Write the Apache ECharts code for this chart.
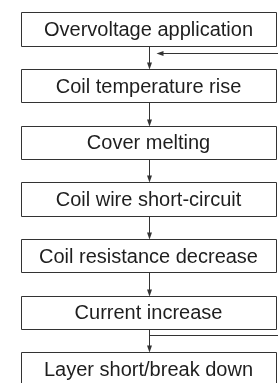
<!DOCTYPE html>
<html>
<head>
<meta charset="utf-8">
<script src="https://cdn.jsdelivr.net/npm/echarts@6/dist/echarts.min.js"></script>
</head>
<body style="margin:0;background-color:#fff">
<div id="main" style="width:278px;height:383px;"></div>
<script type="text/javascript">

var steps = [
	'Overvoltage application',
	'Coil temperature rise',
	'Cover melting',
	'Coil wire short-circuit',
	'Coil resistance decrease',
	'Current increase',
	'Layer short/break down'
];
// loop goes out under "Current increase" and back in under "Overvoltage application"
var loopFrom = 5;
var loopTo = 0;

var boxH = 33.5;
var lineColor = '#333';

function snap(v){ return Math.round(v) + 0.5; }

function arrowDown(x, tipY){
	return {
		type: 'polygon',
		shape: {points: [[x - 2.5, tipY - 7], [x + 2.5, tipY - 7], [x, tipY]]},
		style: {fill: lineColor}
	};
}

function renderBox(params, api){
	var i = api.value(1);
	var a = api.coord([0, i]);
	var b = api.coord([1, i]);
	var x0 = snap(a[0]), x1 = snap(b[0]);
	var top = snap(a[1] - boxH / 2), bot = snap(a[1] + boxH / 2);
	var xc = snap((a[0] + b[0]) / 2);
	var children = [
		{type: 'rect', shape: {x: x0, y: top, width: x1 - x0, height: bot - top},
		 style: {fill: '#fff', stroke: lineColor, lineWidth: 1}},
		{type: 'text', x: (a[0] + b[0]) / 2, y: a[1] + 1.5,
		 style: {text: steps[i], fill: '#1e1e1e', font: '20px "Liberation Sans", Arial, sans-serif',
		         align: 'center', verticalAlign: 'middle'}}
	];
	if (i < steps.length - 1) {
		var n = api.coord([0, i + 1]);
		var nextTop = snap(n[1] - boxH / 2);
		children.push({type: 'line', shape: {x1: xc, y1: bot, x2: xc, y2: nextTop - 5},
			style: {stroke: lineColor, lineWidth: 1}});
		children.push(arrowDown(xc, nextTop));
	}
	return {type: 'group', children: children};
}

function renderLoop(params, api){
	var f = api.value(0), t = api.value(1);
	var a = api.coord([0, f]), b = api.coord([1, f]);
	var xc = snap((a[0] + b[0]) / 2);
	var xr = b[0] + 30; // right leg is off the page
	// sits a bit above the middle of the gap
	var yF = snap(api.coord([0, f + 0.4])[1]);
	var yT = snap(api.coord([0, t + 0.43])[1]);
	return {type: 'group', children: [
		{type: 'polyline', shape: {points: [[xc, yF], [xr, yF], [xr, yT], [xc + 12, yT]]},
		 style: {stroke: lineColor, lineWidth: 1, fill: null}},
		{type: 'polygon', shape: {points: [[xc + 7, yT], [xc + 14, yT - 2.5], [xc + 14, yT + 2.5]]},
		 style: {fill: lineColor}}
	]};
}

var myChart = echarts.init(document.getElementById('main'));
var option = {
	animation: false,
	grid: {left: 21, right: 2, top: 29, bottom: 14},
	xAxis: {type: 'value', min: 0, max: 1, show: false},
	yAxis: {type: 'value', min: 0, max: steps.length - 1, inverse: true, show: false},
	series: [
		{type: 'custom', renderItem: renderBox,
		 data: steps.map(function(s, i){ return [0, i]; })},
		{type: 'custom', renderItem: renderLoop, data: [[loopFrom, loopTo]]}
	]
};
myChart.setOption(option);
</script>
</body>
</html>
